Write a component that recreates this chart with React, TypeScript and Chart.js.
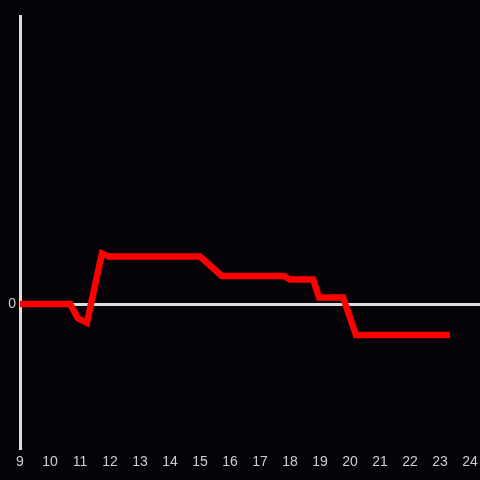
import React, { useEffect, useRef } from "react";
import { Chart, registerables } from "chart.js";

Chart.register(...registerables);

const xValues = [9, 10.67, 10.93, 11.23, 11.73, 11.95, 15, 15.73, 17.8, 18, 18.77, 18.97, 19.77, 20.2, 23.33];
const yValues = [0, 0, -10, -13, 35, 33, 33, 19.5, 19.5, 17, 17, 4.5, 4.5, -21.5, -21.5];
const xTickValues = [9, 10, 11, 12, 13, 14, 15, 16, 17, 18, 19, 20, 21, 22, 23, 24];
const yTickValues = [0];

const BG = "#050307";
const AXIS = "#dedede";
const TEXT = "#cfcfcf";

export default function App() {
  const ref = useRef<HTMLCanvasElement | null>(null);
  useEffect(() => {
    if (!ref.current) return;
    const chart = new Chart(ref.current, {
      type: "line",
      data: {
        datasets: [
          {
            data: xValues.map((x, i) => ({ x, y: yValues[i] })),
            borderColor: "#ff0000",
            backgroundColor: "#ff0000",
            borderWidth: 6.5,
            pointRadius: 0,
            tension: 0,
            fill: false,
          },
        ],
      },
      options: {
        responsive: false,
        animation: false,
        layout: { padding: { top: 16, right: 0, left: 0, bottom: 0 } },
        plugins: { legend: { display: false }, tooltip: { enabled: false } },
        scales: {
          x: {
            type: "linear",
            min: 9,
            max: 24 + 1 / 3,
            afterBuildTicks: (s: any) => {
              s.ticks = xTickValues.map((v) => ({ value: v }));
            },
            afterFit: (s: any) => {
              s.height = 32;
              s.paddingLeft = 0;
              s.paddingRight = 0;
            },
            grid: { display: false, drawTicks: false },
            border: { display: false },
            ticks: {
              color: TEXT,
              font: { size: 14 },
              padding: 6,
              maxRotation: 0,
              autoSkip: false,
              callback: (v: any) => String(v),
            },
          },
          y: {
            type: "linear",
            min: -100,
            max: 200,
            afterBuildTicks: (s: any) => {
              s.ticks = yTickValues.map((v) => ({ value: v }));
            },
            afterFit: (s: any) => {
              s.width = 20;
              s.paddingTop = 0;
              s.paddingBottom = 0;
            },
            grid: {
              drawTicks: false,
              color: (c: any) => (c.tick && c.tick.value === 0 ? AXIS : "rgba(0,0,0,0)"),
              lineWidth: 3,
            },
            border: { display: true, color: AXIS, width: 3 },
            ticks: {
              color: TEXT,
              font: { size: 14 },
              padding: 4,
              callback: (v: any) => String(v),
            },
          },
        },
      },
    });
    return () => chart.destroy();
  }, []);
  return (
    <div style={{ position: "fixed", left: 0, top: 0, width: 480, height: 480, background: BG }}>
      <canvas ref={ref} width={480} height={480} style={{ display: "block" }} />
    </div>
  );
}
